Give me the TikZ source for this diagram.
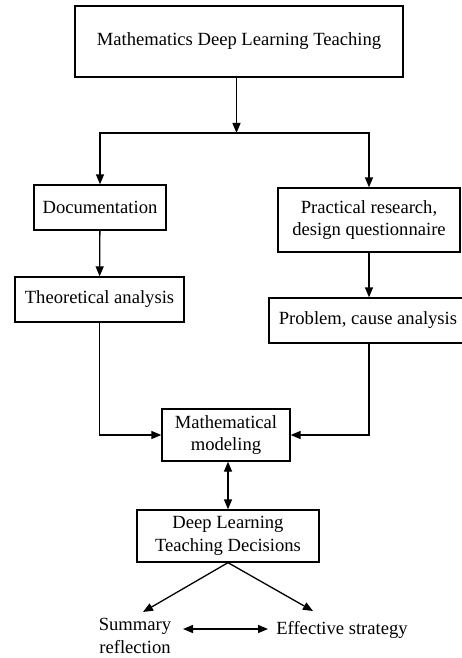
\documentclass[tikz,border=0pt]{standalone}
\usepackage{fontspec}
\setmainfont{Liberation Serif}
\usetikzlibrary{arrows.meta}

\tikzset{
  box/.style={draw, line width=1.3pt, align=center, inner sep=0pt,
    font=\fontsize{18.6}{22.5}\selectfont},
  plain/.style={align=center, inner sep=0pt,
    font=\fontsize{18.6}{22.5}\selectfont},
  link/.style={line width=1.3pt, -{Triangle[length=10pt,width=8pt]}},
  both/.style={line width=1.3pt, {Triangle[length=10pt,width=8pt]}-{Triangle[length=10pt,width=8pt]}}
}

\begin{document}
\begin{tikzpicture}[x=1pt, y=-1pt]

  \clip (0, 0) rectangle (462, 658);
  \fill[white] (0, 0) rectangle (462, 658);

  \node[box, minimum width=328, minimum height=71] (top) at ({239}, {41.5})
    {Mathematics Deep Learning Teaching};
  \coordinate (split) at ({236.5}, {133});

  \node[box, minimum width=132, minimum height=45] (doc) at ({100}, {207.5})
    {Documentation};
  \node[box, minimum width=182, minimum height=64] (prac) at ({369}, {220})
    {Practical research,\\ design questionnaire};

  \node[box, minimum width=169, minimum height=45] (theo) at ({99.5}, {299.5})
    {Theoretical analysis};
  % the right side of this box runs off the page
  \node[box, minimum width=200, minimum height=45] (prob) at ({369}, {320.5})
    {\hspace*{-2pt}Problem, cause analysis};

  \node[box, minimum width=128, minimum height=52] (model) at ({226}, {435})
    {Mathematical\\ modeling};
  \node[box, minimum width=182, minimum height=52] (decide) at ({228}, {536})
    {Deep Learning\\ Teaching Decisions};

  \node[plain] (summary) at ({135}, {636}) {Summary\\ reflection};
  \node[plain] (effect) at ({342}, {630}) {Effective strategy};
  \coordinate (sumtip) at ({143}, {612});
  \coordinate (efftip) at ({313}, {611});

  \draw[link] (top.south -| split) -- (split);
  \draw[link] (split) -| (doc.north);
  \draw[link] (split) -| (prac.north);
  \draw[link] (doc) -- (theo);
  \draw[link] (prac) -- (prob);
  \draw[link] (theo.south) |- (model.west);
  \draw[link] (prob.south) |- (model.east);
  \draw[both] (model.south -| decide.north) -- (decide.north);
  \draw[link] (decide.south) -- (sumtip);
  \draw[link] (decide.south) -- (efftip);
  \draw[both] ({183}, {629}) -- ({268}, {629});

\end{tikzpicture}
\end{document}
